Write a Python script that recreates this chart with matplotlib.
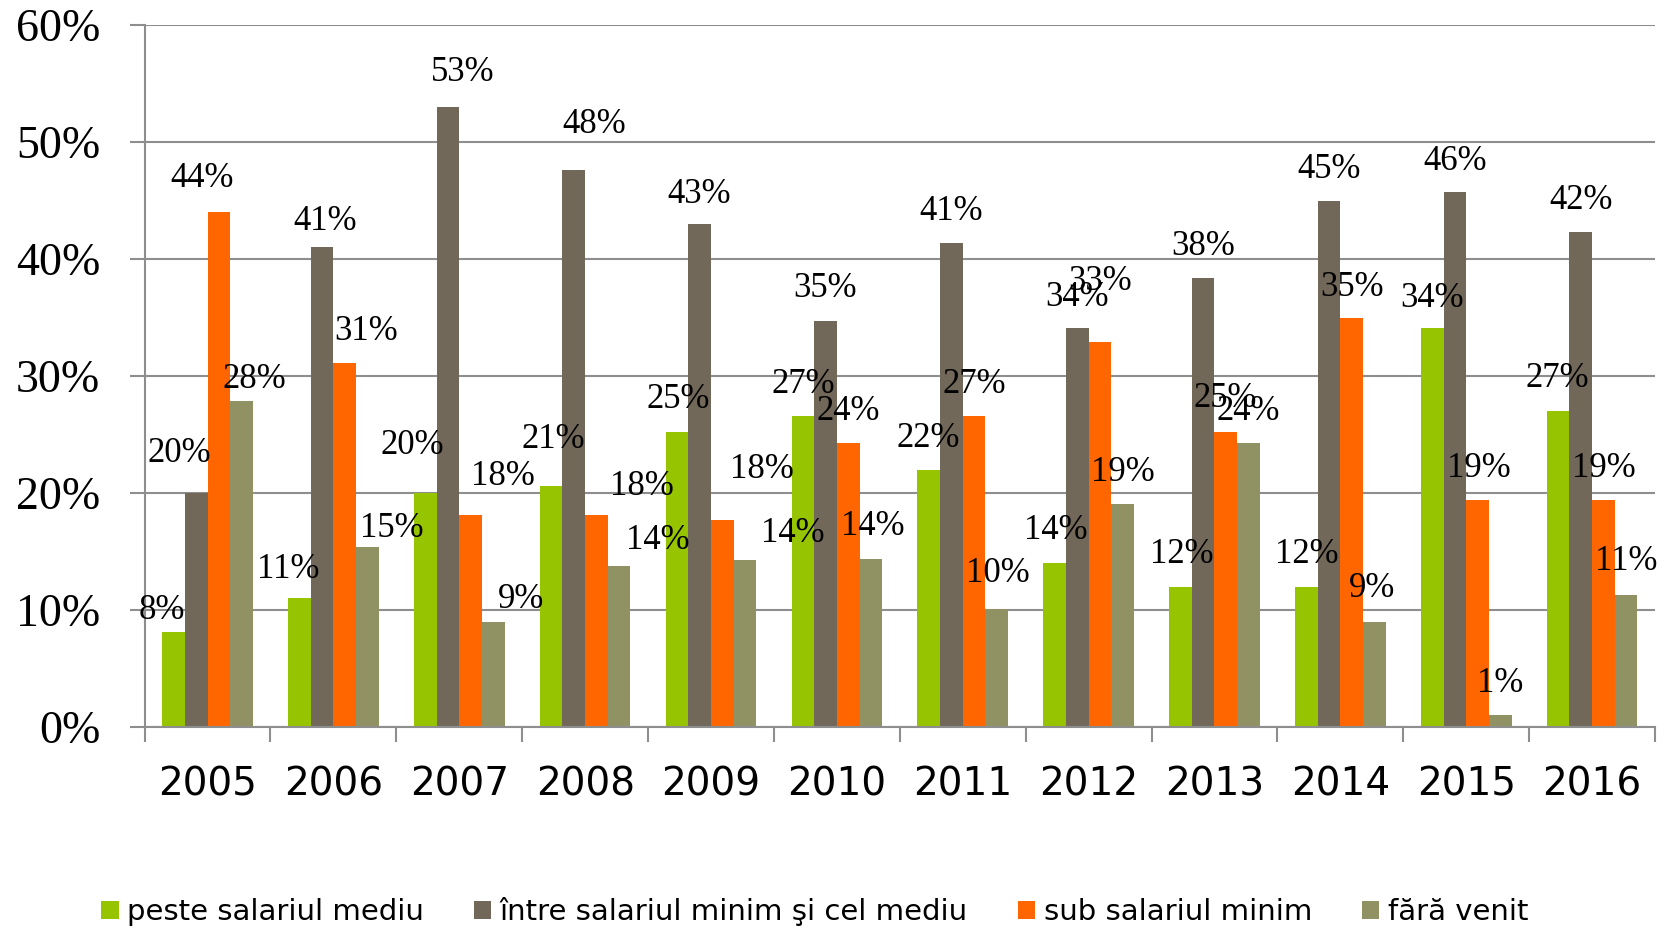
import matplotlib.pyplot as plt
import matplotlib.transforms as mtransforms
import numpy as np

# ani și categorii de venit
years = ['2005', '2006', '2007', '2008', '2009', '2010',
         '2011', '2012', '2013', '2014', '2015', '2016']
series_names = ['peste salariul mediu', 'între salariul minim şi cel mediu',
                'sub salariul minim', 'fără venit']

# procente (%)
peste = [8.1, 11.0, 20.0, 20.6, 25.2, 26.6, 22.0, 14.0, 12.0, 12.0, 34.1, 27.0]
intre = [20.0, 41.0, 53.0, 47.6, 43.0, 34.7, 41.4, 34.1, 38.4, 45.0, 45.7, 42.3]
sub = [44.0, 31.1, 18.1, 18.1, 17.7, 24.3, 26.6, 32.9, 25.2, 35.0, 19.4, 19.4]
fara = [27.9, 15.4, 9.0, 13.8, 14.3, 14.4, 10.1, 19.1, 24.3, 9.0, 1.0, 11.3]

colors = ['#96C500', '#72685A', '#FF6600', '#919264']

# deplasarea etichetelor fata de varful barei (pixeli)
label_dx = [
    [-12, -11, -13, 2, 1, 0, 0, 1, 1, 0, 0, -1],
    [-17, 3, 15, 20, 0, 0, 0, 0, 0, 0, 0, 0],
    [-17, 21, 32, 45, 40, 0, 0, 0, -1, 0, 1, 0],
    [13, 24, 28, 39, 48, 2, 1, 0, 0, -2, 0, 0],
]
label_dy = [
    [13, 20, 39, 38, 24, 23, 23, 24, 24, 24, 21, 24],
    [31, 17, 26, 37, 21, 24, 23, 22, 23, 22, 22, 23],
    [25, 23, 30, 20, 42, 23, 23, 52, 25, 22, 23, 23],
    [13, 10, 14, 17, 18, 24, 27, 23, 23, 25, 23, 25],
]

fig = plt.figure(figsize=(16.72, 9.31), dpi=100)
ax = fig.add_axes([144.6 / 1672, 1 - 727 / 931, (1655 - 144.6) / 1672, (727 - 25) / 931])

x = np.arange(len(years))
width = 0.18
grid_col = '#8E8E8E'

for j, vals in enumerate([peste, intre, sub, fara]):
    pos = x + (j - 1.5) * width
    ax.bar(pos, vals, width=width, color=colors[j], label=series_names[j], zorder=2)
    for k, v in enumerate(vals):
        ax.annotate(f'{v:.0f}%', xy=(pos[k], v), xytext=(label_dx[j][k], label_dy[j][k]),
                    textcoords='offset pixels', ha='center', va='baseline',
                    fontsize=25, family='Liberation Serif', color='black', zorder=3)

ax.set_xlim(-0.5, len(years) - 0.5)
ax.set_ylim(0, 60)
ax.set_yticks(np.arange(0, 61, 10))
ax.set_yticklabels([f'{t}%' for t in range(0, 61, 10)], family='Liberation Serif', fontsize=33)
ax.yaxis.grid(True, color=grid_col, linewidth=1.5)
ax.set_axisbelow(True)

# etichetele axei Y putin mai jos
shift = mtransforms.ScaledTranslation(0, -4 / 72, fig.dpi_scale_trans)
for lbl in ax.get_yticklabels():
    lbl.set_transform(lbl.get_transform() + shift)

ax.set_xticks(x)
ax.set_xticklabels(years, fontsize=28, family='DejaVu Sans')
ax.set_xticks(np.arange(-0.5, len(years), 1.0), minor=True)
ax.tick_params(axis='x', which='major', length=0, pad=28)
ax.tick_params(axis='x', which='minor', length=11, width=1.5, color=grid_col)
ax.tick_params(axis='y', length=11, width=1.5, color=grid_col, pad=21)

for s in ['top', 'right']:
    ax.spines[s].set_visible(False)
for s in ['left', 'bottom']:
    ax.spines[s].set_color(grid_col)
    ax.spines[s].set_linewidth(1.5)

fig.legend(loc='center left', bbox_to_anchor=(101 / 1672, 1 - 912 / 931), ncol=4,
           frameon=False, fontsize=21, handlelength=0.6, handleheight=0.6,
           handletextpad=0.3, columnspacing=1.7, borderpad=0, borderaxespad=0)

fig.savefig('out.png', dpi=100)
